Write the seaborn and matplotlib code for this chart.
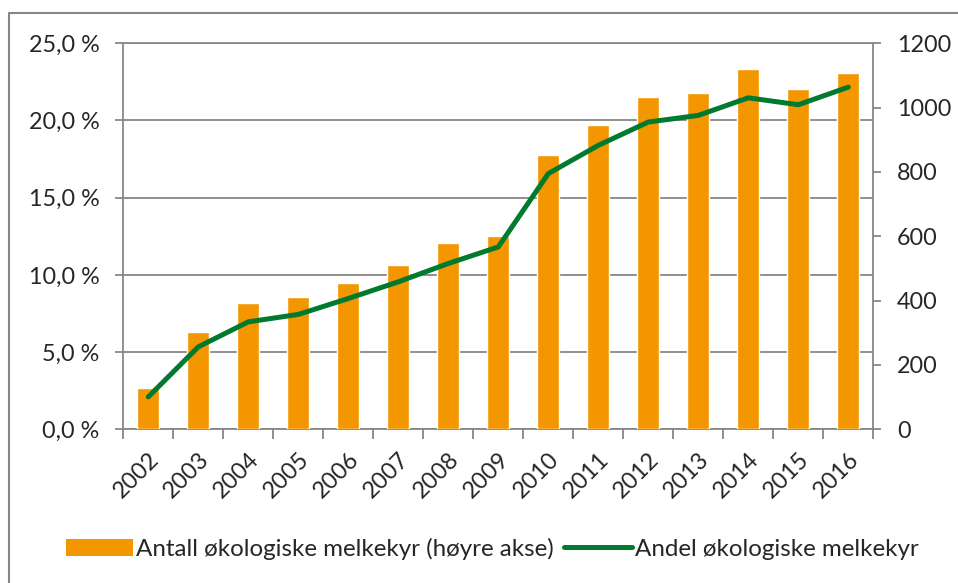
import numpy as np
import matplotlib
matplotlib.use("Agg")
import matplotlib.pyplot as plt
from matplotlib.lines import Line2D
from matplotlib.patches import Patch
from matplotlib.ticker import FuncFormatter, FixedLocator
import seaborn as sns

years = ["2002", "2003", "2004", "2005", "2006", "2007", "2008", "2009",
         "2010", "2011", "2012", "2013", "2014", "2015", "2016"]
antall = [129, 301, 393, 411, 454, 510, 579, 601, 852, 946, 1034, 1045, 1120, 1058, 1108]
andel = [2.1, 5.34, 6.96, 7.44, 8.47, 9.55, 10.74, 11.81, 16.56, 18.39, 19.9, 20.33, 21.47, 21.02, 22.16]
left_ticks = [0, 5, 10, 15, 20, 25]
right_ticks = [0, 200, 400, 600, 800, 1000, 1200]
label_bar = "Antall økologiske melkekyr (høyre akse)"
label_line = "Andel økologiske melkekyr"

ORANGE = "#F39600"
GREEN = "#007A2E"
GRAY = "#878787"

sns.set_style("white")
plt.rcParams["font.family"] = ["Lato", "DejaVu Sans"]
plt.rcParams["font.size"] = 16.5

fig = plt.figure(figsize=(9.58, 5.83), dpi=100)
ax = fig.add_axes([123.3 / 958, 1 - 429.3 / 583, 750 / 958, 386 / 583])
axb = ax.twinx()
axl = ax.twinx()

pos = np.arange(len(years))

# bars (right axis)
sns.barplot(x=years, y=antall, ax=axb, color=ORANGE, width=0.44, saturation=1, zorder=2)
# line (left axis scale)
sns.lineplot(x=pos, y=andel, ax=axl, color=GREEN, linewidth=3.6, zorder=3,
             solid_capstyle="round", solid_joinstyle="round")

for a in (ax, axb, axl):
    a.set_xlim(-0.5, len(years) - 0.5)
    a.set_xlabel("")
    a.set_ylabel("")
    for s in a.spines.values():
        s.set_visible(False)

ax.set_ylim(0, 25)
axl.set_ylim(0, 25)
axb.set_ylim(0, 1200)

# left axis
ax.yaxis.set_major_locator(FixedLocator(left_ticks))
ax.yaxis.set_major_formatter(FuncFormatter(lambda v, p: f"{v:.1f} %".replace(".", ",")))
ax.grid(axis="y", color=GRAY, linewidth=1.3)
ax.set_axisbelow(True)
for k in ("left", "bottom", "top"):
    ax.spines[k].set_visible(True)
    ax.spines[k].set_color(GRAY)
    ax.spines[k].set_linewidth(1.3)
ax.tick_params(axis="y", left=True, length=6, width=1.3, color=GRAY, pad=11, labelsize=16.8)

# right axis
axb.yaxis.tick_right()
axb.yaxis.set_major_locator(FixedLocator(right_ticks))
axb.spines["right"].set_visible(True)
axb.spines["right"].set_color(GRAY)
axb.spines["right"].set_linewidth(1.3)
axb.tick_params(axis="y", right=True, length=6, width=1.3, color=GRAY, pad=11, labelsize=16.8)
axb.grid(False)

# line axis: hidden
axl.set_yticks([])
axl.grid(False)
axl.tick_params(axis="y", right=False, left=False, labelright=False)
if axl.get_legend():
    axl.get_legend().remove()

# x axis
ax.xaxis.set_major_locator(FixedLocator(pos))
ax.set_xticklabels(years, rotation=45, ha="right", rotation_mode="anchor")
ax.xaxis.set_minor_locator(FixedLocator(np.arange(-0.5, len(years), 1.0)))
ax.tick_params(axis="x", which="major", length=0, pad=14, labelsize=16.8)
ax.tick_params(axis="x", which="minor", bottom=True, length=7, width=1.3, color=GRAY)

# outer frame
fig.add_artist(Line2D([9 / 958, 9 / 958, 1], [0, 1 - 13 / 583, 1 - 13 / 583],
                      transform=fig.transFigure, color=GRAY, linewidth=1.5))

handles = [Patch(facecolor=ORANGE, edgecolor="none"),
           Line2D([0], [0], color=GREEN, linewidth=3.6)]
fig.legend(handles, [label_bar, label_line], loc="center",
           bbox_to_anchor=(492 / 958, 1 - 549 / 583), ncol=2, frameon=False,
           handlelength=2.8, handleheight=0.75, handletextpad=0.1, columnspacing=0.45,
           fontsize=17.4)

fig.savefig("out.png", dpi=100)
